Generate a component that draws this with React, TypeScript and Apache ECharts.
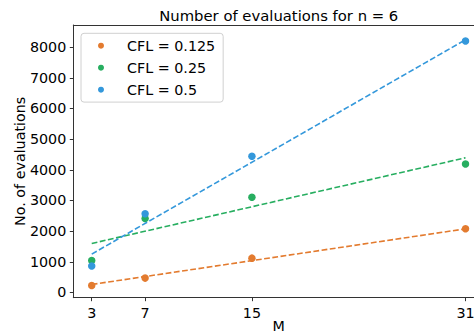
import React, { useEffect, useRef } from "react";
import * as echarts from "echarts";

const mValues = [3, 7, 15, 31];
const seriesNames = ["CFL = 0.125", "CFL = 0.25", "CFL = 0.5"];
const evals0125 = [228, 469, 1120, 2077];
const evals025 = [1043, 2413, 3107, 4186];
const evals05 = [861, 2566, 4443, 8197];
// dashed linear fit lines: value at M = 3 and at M = 31
const fit0125 = [261, 2075];
const fit025 = [1598, 4392];
const fit05 = [1252, 8240];
const yTicks = [0, 1000, 2000, 3000, 4000, 5000, 6000, 7000, 8000];
const xTicks = [3, 7, 15, 31];

const colors = ["#e37b2f", "#27ae60", "#3498db"];
const FONT = "DejaVu Sans";

export default function App() {
  const ref = useRef<HTMLDivElement>(null);
  useEffect(() => {
    if (!ref.current) return;
    const chart = echarts.init(ref.current, null, { renderer: "svg" });
    const allEvals = [evals0125, evals025, evals05];
    const allFits = [fit0125, fit025, fit05];
    const scatterSeries = allEvals.map((vals, i) => ({
      type: "scatter",
      name: seriesNames[i],
      data: mValues.map((m, j) => [m, vals[j]]),
      symbolSize: 7.5,
      itemStyle: { color: colors[i], opacity: 1 },
      z: 2,
    }));
    const lineSeries = allFits.map((f, i) => ({
      type: "line",
      name: "fit " + seriesNames[i],
      data: [
        [mValues[0], f[0]],
        [mValues[mValues.length - 1], f[1]],
      ],
      symbol: "none",
      lineStyle: { color: colors[i], width: 1.6, type: [5.8, 2.5] },
      itemStyle: { color: colors[i] },
      z: 3,
    }));
    const axisLineStyle = { color: "#333", width: 1 };
    chart.setOption({
      animation: false,
      grid: {
        left: 73.3,
        top: 25,
        right: -10.2,
        bottom: 35.3,
        outerBoundsMode: "none",
      },
      graphic: [
        {
          type: "text",
          x: 278.75,
          y: 15,
          style: {
            text: "Number of evaluations for n = 6",
            textAlign: "center",
            textVerticalAlign: "middle",
            fontSize: 14.8,
            fontFamily: FONT,
            fill: "#000",
          },
        },
      ],
      legend: {
        data: seriesNames,
        orient: "vertical",
        left: 81,
        top: 33.3,
        padding: [4.4, 8, 4.4, 17],
        itemWidth: 6,
        itemHeight: 6,
        itemGap: 6,
        icon: "circle",
        backgroundColor: "rgba(255,255,255,0.8)",
        borderColor: "#d0d0d0",
        borderWidth: 1,
        borderRadius: 3,
        textStyle: {
          fontSize: 14.3,
          fontFamily: FONT,
          color: "#000",
          lineHeight: 16,
          padding: [0, 0, 0, 18],
        },
      },
      xAxis: [
        {
          type: "value",
          min: 1.62,
          max: 32.4,
          position: "bottom",
          axisLine: { show: true, onZero: false, lineStyle: axisLineStyle },
          axisTick: { show: true, length: 3.5, customValues: xTicks, lineStyle: axisLineStyle },
          axisLabel: {
            customValues: xTicks,
            fontSize: 14.3,
            fontFamily: FONT,
            color: "#000",
            margin: 8,
            formatter: (v: number) => String(v),
          },
          splitLine: { show: false },
          name: "M",
          nameLocation: "middle",
          nameGap: 21,
          nameMoveOverlap: false,
          nameTextStyle: { fontSize: 14.3, fontFamily: FONT, color: "#000" },
        },
        {
          type: "value",
          min: 1.62,
          max: 32.4,
          position: "top",
          axisLine: { show: true, onZero: false, lineStyle: axisLineStyle },
          axisTick: { show: false },
          axisLabel: { show: false },
          splitLine: { show: false },
        },
      ],
      yAxis: {
        type: "value",
        min: -170,
        max: 8720,
        axisLine: { show: true, onZero: false, lineStyle: axisLineStyle },
        axisTick: { show: true, length: 3.5, customValues: yTicks, lineStyle: axisLineStyle },
        axisLabel: {
          customValues: yTicks,
          fontSize: 14.3,
          fontFamily: FONT,
          color: "#000",
          margin: 7,
          formatter: (v: number) => String(v),
        },
        splitLine: { show: false },
        name: "No. of evaluations",
        nameLocation: "middle",
        nameGap: 46,
        nameRotate: 90,
        nameMoveOverlap: false,
        nameTextStyle: { fontSize: 14.3, fontFamily: FONT, color: "#000" },
      },
      series: [...scatterSeries, ...lineSeries],
    });
    return () => chart.dispose();
  }, []);
  return (
    <div
      ref={ref}
      style={{ position: "fixed", left: 0, top: 0, width: 474, height: 333, background: "#fff" }}
    />
  );
}
